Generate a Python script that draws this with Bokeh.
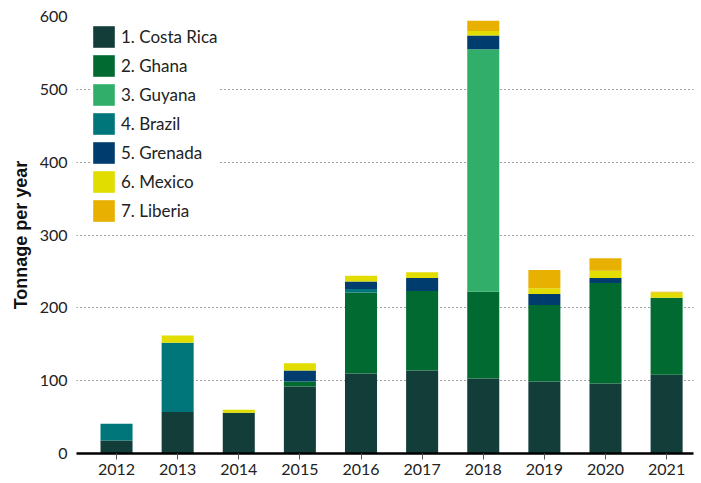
from bokeh.plotting import figure
from bokeh.models import Range1d, Legend, LegendItem, SingleIntervalTicker, FixedTicker
from bokeh.embed import file_html
from bokeh.resources import INLINE

years = ["2012", "2013", "2014", "2015", "2016", "2017", "2018", "2019", "2020", "2021"]
costa_rica = [18, 57, 56, 92, 110, 114, 103, 99, 96, 108]
ghana      = [0, 0, 0, 7, 111, 109, 119, 105, 138, 106]
guyana     = [0, 0, 0, 0, 0, 0, 333, 0, 0, 0]
brazil     = [23, 95, 0, 0, 5, 0, 0, 0, 0, 0]
grenada    = [0, 0, 0, 15, 10, 18, 19, 15, 7, 0]
mexico     = [0, 10, 4, 10, 8, 8, 6, 8, 10, 7]
liberia    = [0, 0, 0, 0, 0, 0, 14, 25, 17, 1]

series_names = ["1. Costa Rica", "2. Ghana", "3. Guyana", "4. Brazil",
                "5. Grenada", "6. Mexico", "7. Liberia"]
series_keys = ["costa_rica", "ghana", "guyana", "brazil", "grenada", "mexico", "liberia"]
colors = ["#133d39", "#006a31", "#32ae6b", "#00767a", "#003d6e", "#e1dd00", "#e8b000"]

xs = list(range(len(years)))
data = dict(x=xs, costa_rica=costa_rica, ghana=ghana, guyana=guyana,
            brazil=brazil, grenada=grenada, mexico=mexico, liberia=liberia)

FONT = "Lato"
W, H = 701, 483
TOP, BOTTOM, LEFT, RIGHT = 16, 30, 76, 8

p = figure(x_range=Range1d(-0.655, len(years) - 1 + 0.44), y_range=Range1d(0, 600),
           width=W, height=H,
           min_border_left=LEFT, min_border_right=RIGHT, min_border_top=TOP, min_border_bottom=BOTTOM,
           output_backend="svg", toolbar_location=None)
p.outline_line_color = None
p.background_fill_color = "white"

renderers = p.vbar_stack(series_keys, x="x", width=0.524, source=data,
                         color=colors, line_color=None)

# grid
p.xgrid.grid_line_color = None
p.ygrid.grid_line_color = "#444444"
p.ygrid.grid_line_dash = "1 3"
p.ygrid.grid_line_width = 1.2
p.ygrid.ticker = SingleIntervalTicker(interval=100)

# y axis
p.yaxis.ticker = SingleIntervalTicker(interval=100)
p.yaxis.axis_line_color = None
p.yaxis.major_tick_line_color = None
p.yaxis.minor_tick_line_color = None
p.yaxis.major_label_standoff = 3
p.yaxis.major_label_text_font = FONT
p.yaxis.major_label_text_font_size = "16px"
p.yaxis.major_label_text_color = "#222222"
p.yaxis.axis_label = "Tonnage per year"
p.yaxis.axis_label_text_font = "Liberation Sans"
p.yaxis.axis_label_text_font_style = "bold"
p.yaxis.axis_label_text_font_size = "18px"
p.yaxis.axis_label_text_color = "#111111"
p.yaxis.axis_label_standoff = 6

# x axis
p.xaxis.ticker = FixedTicker(ticks=xs)
p.xaxis.major_label_overrides = {i: y for i, y in zip(xs, years)}
p.xaxis.axis_line_color = "black"
p.xaxis.axis_line_width = 2.5
p.xaxis.major_tick_line_color = "#555555"
p.xaxis.major_tick_out = 6
p.xaxis.major_tick_in = 0
p.xaxis.minor_tick_line_color = None
p.xaxis.major_label_standoff = 4
p.xaxis.major_label_text_font = FONT
p.xaxis.major_label_text_font_size = "16px"
p.xaxis.major_label_text_color = "#222222"

PAD = 4
ROW = 27
SP = 2
items = [LegendItem(label=n, renderers=[r]) for n, r in zip(series_names, renderers)]
legend = Legend(items=items, location=(14, 229))
legend.padding = PAD
legend.margin = 0
legend.spacing = SP
legend.glyph_width = ROW
legend.glyph_height = ROW
legend.label_height = ROW
legend.label_standoff = 4
legend.label_text_font = FONT
legend.label_text_font_size = "17px"
legend.label_text_color = "#222222"
legend.border_line_color = None
legend.background_fill_color = "white"
legend.background_fill_alpha = 1
p.add_layout(legend)

open("out.html", "w").write(file_html(p, INLINE))
